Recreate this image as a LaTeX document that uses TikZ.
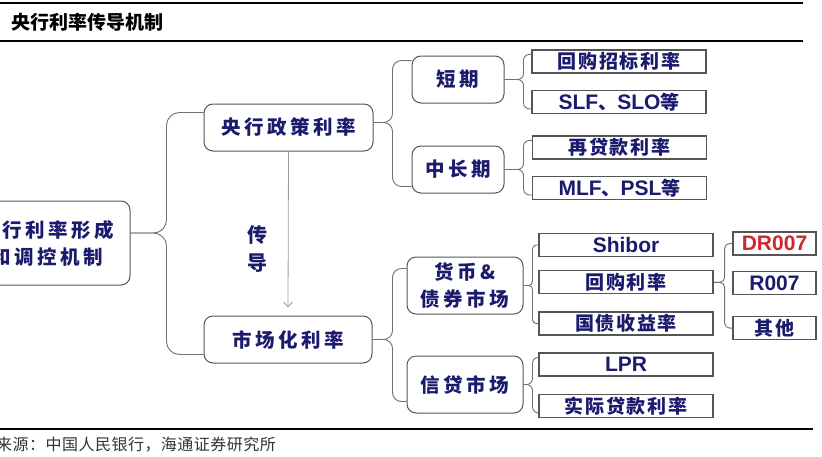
\documentclass[tikz,border=0pt]{standalone}
\usepackage{fontspec}
\setmainfont{Noto Sans CJK SC}
\newfontfamily\arial{Liberation Sans}
\usepackage{xcolor}
\usetikzlibrary{positioning, arrows.meta}

\definecolor{navy}{HTML}{1B1B6E}
\definecolor{boxline}{HTML}{555555}
\definecolor{linkgray}{HTML}{707070}
\definecolor{arrowgray}{HTML}{9A9A9A}
\definecolor{drred}{HTML}{D0262A}

\newcommand{\lat}[1]{{\arial\fontsize{21}{22}\selectfont #1}}

\tikzset{
  topic/.style={draw=boxline, line width=1pt, rounded corners=9pt, minimum height=47pt, inner sep=0pt, text=navy, align=center,
    font={\fontsize{19.5}{27}\selectfont\bfseries\addfontfeatures{LetterSpace=18}}},
  leaf/.style={draw=boxline, line width=1.3pt, minimum width=174pt, minimum height=23pt, inner sep=0pt, text=navy,
    font={\fontsize{19}{22}\selectfont\bfseries\addfontfeatures{LetterSpace=9}}},
  link/.style={draw=linkgray, line width=0.9pt},
  rule/.style={line width=2.4pt, black},
}

\begin{document}
\begin{tikzpicture}[x=1pt, y=-1pt]
\useasboundingbox (0,0) rectangle (822,456);
\clip (0,0) rectangle (822,456);

\draw[rule] (0,3) -- (803,3);
\draw[rule] (0,41) -- (803,41);
\draw[line width=2pt] (0,429) -- (813,429);
\node[anchor=west, inner sep=0pt, font={\fontsize{19}{20}\selectfont\bfseries}] (title) at (11,22) {央行利率传导机制};
\node[anchor=west, inner sep=0pt, text=black!80, font={\fontsize{16}{18}\selectfont\addfontfeatures{LetterSpace=3}}] (src) at (-4,445) {来源：中国人民银行，海通证券研究所};

\node[topic, minimum width=166pt, minimum height=84pt] (root) at (47,243) {央行利率形成\\和调控机制};
\node[topic, minimum width=169pt] (pol) at (288.5,127.5) {央行政策利率};
\node[topic, minimum width=168pt] (mkt) at (288,339.5) {市场化利率};
\node[topic, minimum width=92pt] (short) at (458,79.5) {短期};
\node[topic, minimum width=92pt] (long) at (458,169.5) {中长期};
\node[topic, minimum width=116pt, minimum height=57pt] (money) at (465,285.5) {货币\&\\债券市场};
\node[topic, minimum width=116pt, minimum height=57pt] (credit) at (465,384.5) {信贷市场};

\node[leaf] (r1) at (619,61.5) {回购招标利率};
\node[leaf, below=16pt of r1] (r2) {\lat{SLF}、\lat{SLO}等};
\node[leaf] (r3) at (619.5,147.5) {再贷款利率};
\node[leaf, below=16pt of r3] (r4) {\lat{MLF}、\lat{PSL}等};
\node[leaf] (s1) at (626,245) {\lat{Shibor}};
\node[leaf, below=13pt of s1] (s2) {回购利率};
\node[leaf, below=17pt of s2] (s3) {国债收益率};
\node[leaf] (s4) at (626,364.5) {\lat{LPR}};
\node[leaf, below=17pt of s4] (s5) {实际贷款利率};
\node[leaf, minimum width=83pt] (t1) at (774.5,243.5) {\lat{\textcolor{drred}{DR007}}};
\node[leaf, minimum width=83pt, below=15pt of t1] (t2) {\lat{R007}};
\node[leaf, minimum width=83pt, below=21pt of t2] (t3) {其他};

\node[text=navy, align=center, inner sep=0pt, font={\fontsize{20}{28}\selectfont\bfseries}] (pass) at (257,249) {传\\导};
\draw[draw=arrowgray, line width=0.8pt, -{Straight Barb[length=5pt, width=9pt]}] (pol.south) -- ([yshift=8pt]mkt.north);

\draw[link, rounded corners=13pt] ([yshift=10pt]root.east) -- ++(36pt,0) |- ([yshift=-9pt]pol.north west);
\draw[link, rounded corners=13pt] ([yshift=10pt]root.east) -- ++(36pt,0) |- ([yshift=9pt]mkt.south west);

\draw[link, rounded corners=9pt] ([yshift=5pt]pol.east) -- ++(19pt,0) |- ([yshift=-5pt]short.north west);
\draw[link, rounded corners=9pt] ([yshift=5pt]pol.east) -- ++(19pt,0) |- ([yshift=7pt]long.south west);
\draw[link, rounded corners=9pt] (mkt.east) -- ++(20pt,0) |- ([yshift=-12pt]money.north west);
\draw[link, rounded corners=9pt] (mkt.east) -- ++(20pt,0) |- ([yshift=12pt]credit.south west);

\draw[link, rounded corners=6pt] (short.east) -- ++(19pt,0) |- ([yshift=-5pt]r1.north west);
\draw[link, rounded corners=6pt] (short.east) -- ++(19pt,0) |- ([yshift=5pt]r2.south west);
\draw[link, rounded corners=6pt] (long.east) -- ++(19pt,0) |- ([yshift=-5pt]r3.north west);
\draw[link, rounded corners=6pt] (long.east) -- ++(19pt,0) |- ([yshift=5pt]r4.south west);

\draw[link, rounded corners=4pt] (money.east) -- ++(9pt,0) |- (s1.west);
\draw[link, rounded corners=4pt] (money.east) -- ++(9pt,0) |- (s3.west);
\draw[link, rounded corners=6pt] (credit.east) -- ++(9pt,0) |- ([yshift=-5pt]s4.north west);
\draw[link, rounded corners=6pt] (credit.east) -- ++(9pt,0) |- ([yshift=5pt]s5.south west);

\draw[link, rounded corners=5pt] (s2.east) -- ++(11pt,0) |- (t1.west);
\draw[link, rounded corners=5pt] (s2.east) -- ++(11pt,0) |- (t3.west);
\end{tikzpicture}
\end{document}
